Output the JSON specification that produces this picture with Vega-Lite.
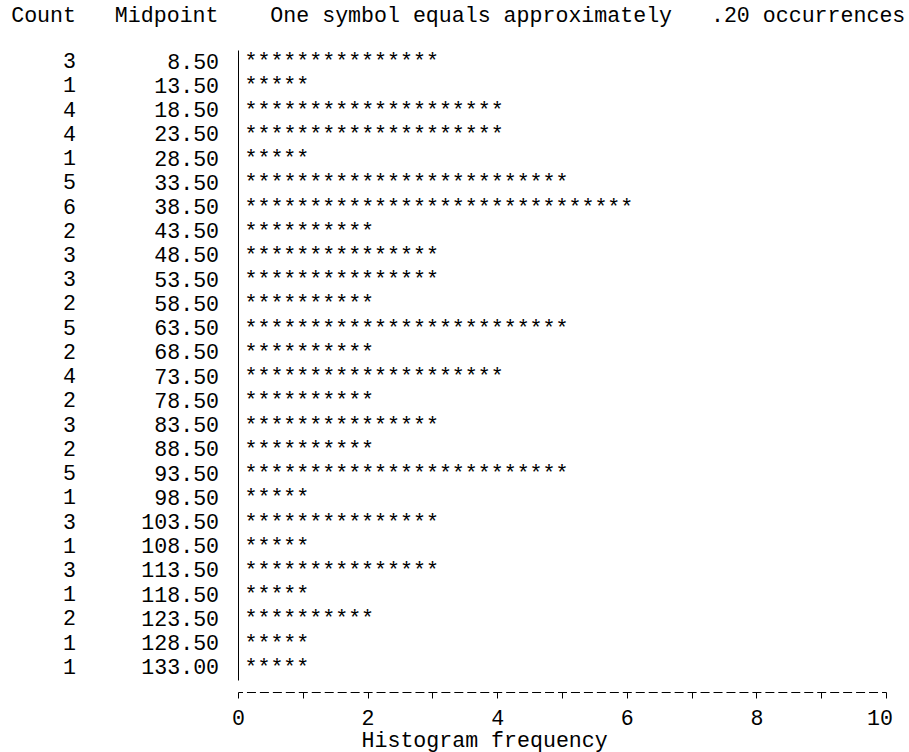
{
  "$schema": "https://vega.github.io/schema/vega-lite/v6.json",
  "width": 648,
  "height": 630,
  "autosize": {"type": "none"},
  "padding": {"left": 238, "top": 50, "right": 23, "bottom": 72},
  "background": "white",
  "title": {
    "text": "Count\u00a0\u00a0\u00a0Midpoint\u00a0\u00a0\u00a0\u00a0One symbol equals approximately\u00a0\u00a0\u00a0.20 occurrences",
    "anchor": "start",
    "frame": "group",
    "dx": -226.8,
    "offset": 12,
    "font": "Liberation Mono",
    "fontSize": 21.6,
    "fontWeight": "normal",
    "color": "black",
    "baseline": "middle"
  },
  "data": {
    "values": [
      {"count": 3, "midpoint": "8.50", "stars": "***************"},
      {"count": 1, "midpoint": "13.50", "stars": "*****"},
      {"count": 4, "midpoint": "18.50", "stars": "********************"},
      {"count": 4, "midpoint": "23.50", "stars": "********************"},
      {"count": 1, "midpoint": "28.50", "stars": "*****"},
      {"count": 5, "midpoint": "33.50", "stars": "*************************"},
      {"count": 6, "midpoint": "38.50", "stars": "******************************"},
      {"count": 2, "midpoint": "43.50", "stars": "**********"},
      {"count": 3, "midpoint": "48.50", "stars": "***************"},
      {"count": 3, "midpoint": "53.50", "stars": "***************"},
      {"count": 2, "midpoint": "58.50", "stars": "**********"},
      {"count": 5, "midpoint": "63.50", "stars": "*************************"},
      {"count": 2, "midpoint": "68.50", "stars": "**********"},
      {"count": 4, "midpoint": "73.50", "stars": "********************"},
      {"count": 2, "midpoint": "78.50", "stars": "**********"},
      {"count": 3, "midpoint": "83.50", "stars": "***************"},
      {"count": 2, "midpoint": "88.50", "stars": "**********"},
      {"count": 5, "midpoint": "93.50", "stars": "*************************"},
      {"count": 1, "midpoint": "98.50", "stars": "*****"},
      {"count": 3, "midpoint": "103.50", "stars": "***************"},
      {"count": 1, "midpoint": "108.50", "stars": "*****"},
      {"count": 3, "midpoint": "113.50", "stars": "***************"},
      {"count": 1, "midpoint": "118.50", "stars": "*****"},
      {"count": 2, "midpoint": "123.50", "stars": "**********"},
      {"count": 1, "midpoint": "128.50", "stars": "*****"},
      {"count": 1, "midpoint": "133.00", "stars": "*****"}
    ]
  },
  "encoding": {
    "y": {
      "field": "midpoint",
      "type": "nominal",
      "sort": null,
      "axis": {
        "title": null,
        "ticks": false,
        "tickSize": 0,
        "labelPadding": 19.44,
        "labelAlign": "right",
        "labelBaseline": "middle",
        "labelFont": "Liberation Mono",
        "labelFontSize": 21.6,
        "labelColor": "black",
        "domainColor": "black",
        "domainWidth": 1,
        "grid": false,
        "labelOverlap": false
      }
    }
  },
  "layer": [
    {
      "mark": {
        "type": "text",
        "align": "right",
        "baseline": "middle",
        "dx": 6.48,
        "font": "Liberation Mono",
        "fontSize": 21.6,
        "color": "black"
      },
      "encoding": {
        "x": {
          "field": "count",
          "type": "quantitative",
          "scale": {"domain": [0, 10], "nice": false, "zero": false},
          "axis": {
            "values": [0, 1, 2, 3, 4, 5, 6, 7, 8, 9, 10],
            "labelExpr": "datum.value % 2 == 0 ? datum.label : ''",
            "format": "d",
            "offset": 12,
            "grid": false,
            "domainColor": "black",
            "domainWidth": 1,
            "domainDash": [9, 3.96],
            "domainDashOffset": 4.5,
            "tickColor": "black",
            "tickWidth": 1,
            "tickSize": 6,
            "labelPadding": 20,
            "labelFlush": false,
            "labelOverlap": false,
            "labelBaseline": "middle",
            "labelAlign": {"condition": {"test": "datum.value == 10", "value": "right"}, "value": "center"},
            "labelOffset": {"condition": {"test": "datum.value == 10", "value": 6.48}, "value": 0},
            "labelFont": "Liberation Mono",
            "labelFontSize": 21.6,
            "labelColor": "black",
            "title": "Histogram frequency",
            "titleFont": "Liberation Mono",
            "titleFontSize": 21.6,
            "titleFontWeight": "normal",
            "titleColor": "black",
            "titleAnchor": "start",
            "titleAlign": "left",
            "titleBaseline": "middle",
            "titleX": 123,
            "titleY": 48
          }
        },
        "text": {"field": "stars"}
      }
    },
    {
      "mark": {
        "type": "text",
        "align": "right",
        "baseline": "middle",
        "font": "Liberation Mono",
        "fontSize": 21.6,
        "color": "black"
      },
      "encoding": {
        "x": {"datum": -2.5},
        "text": {"field": "count", "type": "quantitative"}
      }
    }
  ],
  "config": {"view": {"stroke": null}}
}
